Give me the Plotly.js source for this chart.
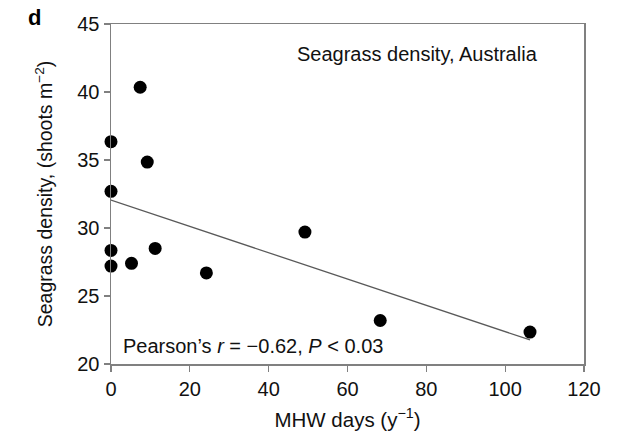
<!DOCTYPE html>
<html>
<head>
<meta charset="utf-8">
<script src="https://cdn.plot.ly/plotly-3.0.1.min.js"></script>
<style>html,body{margin:0;padding:0;background:#fff;}#chart{width:621px;height:432px;}</style>
</head>
<body>
<div id="chart"></div>
<script>
// Data
const mhwDays = [0, 0, 0, 0, 7.4, 9.2, 5.2, 11.2, 24.2, 49.2, 68.3, 106.3];
const shootDensity = [36.35, 32.7, 28.35, 27.2, 40.35, 34.85, 27.4, 28.5, 26.7, 29.7, 23.2, 22.35];
const fitX = [0, 106.3];
const fitY = [32.05, 21.77];
const xTicks = [0, 20, 40, 60, 80, 100, 120];
const yTicks = [20, 25, 30, 35, 40, 45];

const font = 'Liberation Sans, Arial, Helvetica, sans-serif';

const traces = [
  {
    x: fitX, y: fitY, mode: 'lines', type: 'scatter',
    line: {color: '#5a5a5a', width: 1.3},
    hoverinfo: 'skip', showlegend: false
  },
  {
    x: mhwDays, y: shootDensity, mode: 'markers', type: 'scatter',
    marker: {color: '#000000', size: 13},
    cliponaxis: false, showlegend: false
  }
];

const axisCommon = {
  showgrid: false, zeroline: false,
  showline: true, mirror: true, linecolor: '#808080', linewidth: 1.5,
  ticks: 'outside', ticklen: 6, tickwidth: 1.2, tickcolor: '#808080',
  tickfont: {family: font, size: 20, color: '#111'}
};

const layout = {
  width: 621, height: 432,
  margin: {l: 111, r: 37, t: 24, b: 68},
  paper_bgcolor: '#fff', plot_bgcolor: '#fff',
  font: {family: font, color: '#111'},
  xaxis: Object.assign({}, axisCommon, {
    range: [0, 120], tickvals: xTicks, ticktext: xTicks.map(String),
    title: {text: 'MHW days (y<sup>−1</sup>)', font: {family: font, size: 20.5, color: '#111'}, standoff: 14}
  }),
  yaxis: Object.assign({}, axisCommon, {
    range: [20, 45], tickvals: yTicks, ticktext: yTicks.map(String),
    title: {text: 'Seagrass density, (shoots m<sup>−2</sup>)', font: {family: font, size: 19.5, color: '#111'}, standoff: 19}
  }),
  annotations: [
    {xref: 'paper', yref: 'paper', x: 0.907, y: 0.912, xanchor: 'right', yanchor: 'middle',
     text: 'Seagrass density, Australia', showarrow: false, font: {family: font, size: 20, color: '#111'}},
    {xref: 'paper', yref: 'paper', x: 0.022, y: 0.053, xanchor: 'left', yanchor: 'middle',
     text: 'Pearson’s <i>r</i> = −0.62, <i>P</i> < 0.03', showarrow: false, font: {family: font, size: 20, color: '#111'}},
    {xref: 'paper', yref: 'paper', x: -0.18, y: 1.018, xanchor: 'left', yanchor: 'middle',
     text: '<b>d</b>', showarrow: false, font: {family: font, size: 22, color: '#000'}}
  ]
};

Plotly.newPlot('chart', traces, layout, {staticPlot: true, displayModeBar: false});
</script>
</body>
</html>
